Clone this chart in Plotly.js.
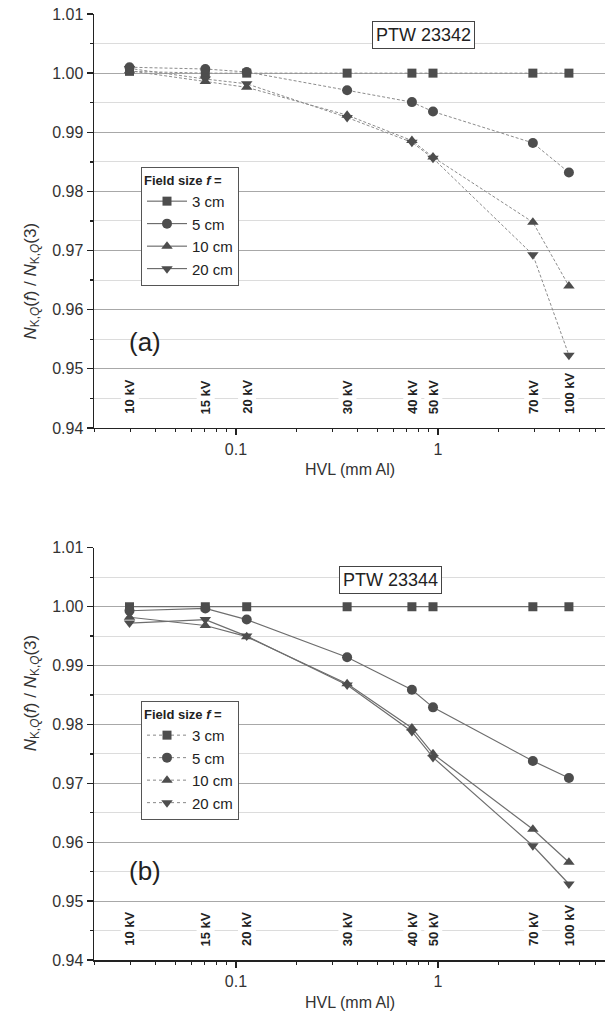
<!DOCTYPE html>
<html>
<head>
<meta charset="utf-8">
<script src="https://cdn.plot.ly/plotly-3.0.1.min.js"></script>
<style>html,body{margin:0;padding:0;background:#fff;}#chart{width:605px;height:1026px;}</style>
</head>
<body>
<div id="chart"></div>
<script>
// HVL (mm Al) for each tube voltage
const hvl = [0.0297, 0.0705, 0.113, 0.355, 0.743, 0.945, 2.95, 4.45];
const kvLabels = ["10 kV", "15 kV", "20 kV", "30 kV", "40 kV", "50 kV", "70 kV", "100 kV"];
const fieldSizes = ["3 cm", "5 cm", "10 cm", "20 cm"];

// Panel (a) PTW 23342
const a3 = [1.0003, 1.0000, 1.0000, 1.0000, 1.0000, 1.0000, 1.0000, 1.0000];
const a5 = [1.0010, 1.0007, 1.0002, 0.9971, 0.9951, 0.9935, 0.9882, 0.9832];
const a10 = [1.0004, 0.9986, 0.9976, 0.9929, 0.9886, 0.9858, 0.9748, 0.9640];
const a20 = [1.0008, 0.9990, 0.9982, 0.9925, 0.9883, 0.9856, 0.9693, 0.9523];

// Panel (b) PTW 23344
const b3 = [1.0000, 1.0000, 1.0000, 1.0000, 1.0000, 1.0000, 1.0000, 1.0000];
const b5 = [0.9993, 0.9997, 0.9978, 0.9914, 0.9859, 0.9829, 0.9738, 0.9709];
const b10 = [0.9982, 0.9968, 0.9949, 0.9869, 0.9794, 0.9750, 0.9622, 0.9566];
const b20 = [0.9972, 0.9978, 0.9950, 0.9867, 0.9788, 0.9744, 0.9594, 0.9529];

const symbols = ["square", "circle", "triangle-up", "triangle-down"];
const sizes = [9, 10, 10, 10];
const markerColor = "#4d4d4d";
const FONT = "Liberation Sans, Arial, sans-serif";

const traces = [];
const seriesA = [a3, a5, a10, a20];
const seriesB = [b3, b5, b10, b20];

seriesA.forEach((ys, i) => {
  traces.push({
    x: hvl, y: ys, xaxis: "x", yaxis: "y", type: "scatter", mode: "lines+markers",
    name: fieldSizes[i], showlegend: false,
    line: {color: "#8c8c8c", width: 1, dash: "3px,2px"},
    marker: {symbol: symbols[i], size: sizes[i], color: markerColor}
  });
});
seriesB.forEach((ys, i) => {
  traces.push({
    x: hvl, y: ys, xaxis: "x2", yaxis: "y2", type: "scatter", mode: "lines+markers",
    name: fieldSizes[i], showlegend: false,
    line: {color: "#6e6e6e", width: 1.2},
    marker: {symbol: symbols[i], size: sizes[i], color: markerColor}
  });
});
// legend entries (styles as shown in each legend box)
fieldSizes.forEach((n, i) => {
  traces.push({
    x: [null], y: [null], xaxis: "x", yaxis: "y", type: "scatter", mode: "lines+markers",
    name: n, legend: "legend", showlegend: true,
    line: {color: "#555", width: 1},
    marker: {symbol: symbols[i], size: sizes[i], color: markerColor}
  });
});
fieldSizes.forEach((n, i) => {
  traces.push({
    x: [null], y: [null], xaxis: "x2", yaxis: "y2", type: "scatter", mode: "lines+markers",
    name: n, legend: "legend2", showlegend: true,
    line: {color: "#888", width: 1, dash: "dot"},
    marker: {symbol: symbols[i], size: sizes[i], color: markerColor}
  });
});

const xRange = [-1.703, 0.827];
const majorX = [0.1, 1];
const minorX = [0.02,0.03,0.04,0.05,0.06,0.07,0.08,0.09,0.2,0.3,0.4,0.5,0.6,0.7,0.8,0.9,2,3,4,5,6];

function xAxis(anchor, ticks, labels, overlay) {
  const ax = {
    type: "log", range: xRange, anchor: anchor,
    tickvals: majorX, ticktext: ["0.1", "1"], showticklabels: labels,
    ticks: ticks, ticklen: 6, tickwidth: 1.3, tickcolor: "#222",
    minor: {tickvals: minorX, ticks: ticks, ticklen: 3, tickwidth: 1.2, tickcolor: "#222", showgrid: false},
    showline: true, linecolor: "#222", linewidth: 1.5,
    showgrid: false, zeroline: false,
    tickfont: {family: FONT, size: 16, color: "#333"}
  };
  if (overlay) { ax.overlaying = overlay; ax.side = "top"; }
  return ax;
}
function yAxis(domain, anchor) {
  return {
    domain: domain, anchor: anchor, range: [0.94, 1.01],
    tick0: 0.94, dtick: 0.01, tickformat: ".2f",
    ticks: "outside", ticklen: 6, tickwidth: 1.3, tickcolor: "#222",
    minor: {dtick: 0.005, ticks: "outside", ticklen: 3, tickcolor: "#222", showgrid: true, gridcolor: "#dcdcdc", gridwidth: 1},
    showline: true, linecolor: "#222", linewidth: 1.5,
    showgrid: true, gridcolor: "#a8a8a8", gridwidth: 1, zeroline: false,
    tickfont: {family: FONT, size: 16, color: "#333"}
  };
}

const topDom = [0.5624, 1];
const botDom = [0, 0.4358];

const annotations = [];
[["x", "y"], ["x2", "y2"]].forEach(([xr, yr]) => {
  hvl.forEach((h, i) => {
    annotations.push({
      xref: xr, yref: yr, x: Math.log10(h), y: 0.942, yanchor: "bottom", xanchor: "center",
      text: "<b>" + kvLabels[i] + "</b>", textangle: -90, showarrow: false,
      font: {family: FONT, size: 13, color: "#222"}, bgcolor: "#ffffff", borderpad: 1
    });
  });
});
annotations.push(
  {xref: "paper", yref: "y", x: 0.644, y: 1.0065, text: "PTW 23342", showarrow: false,
   font: {family: FONT, size: 18, color: "#222"}, bordercolor: "#444", borderwidth: 1, borderpad: 3, bgcolor: "#fff"},
  {xref: "paper", yref: "y2", x: 0.681, y: 1.0045, text: "PTW 23344", showarrow: false,
   font: {family: FONT, size: 18, color: "#222"}, bordercolor: "#444", borderwidth: 1, borderpad: 3, bgcolor: "#fff"},
  {xref: "paper", yref: "y", x: 0.0646, y: 0.9546, text: "(a)", showarrow: false,
   font: {family: FONT, size: 26, color: "#222"}},
  {xref: "paper", yref: "y2", x: 0.0646, y: 0.9551, text: "(b)", showarrow: false,
   font: {family: FONT, size: 26, color: "#222"}},
  {xref: "paper", yref: "paper", x: 0.5, y: (960 - 469) / 946, text: "HVL (mm Al)", showarrow: false,
   font: {family: FONT, size: 16, color: "#333"}},
  {xref: "paper", yref: "paper", x: 0.5, y: (960 - 1013) / 946, text: "HVL (mm Al)", showarrow: false,
   font: {family: FONT, size: 16, color: "#333"}}
);
const yTitle = "<i>N</i><sub>K,<i>Q</i></sub>(<i>f</i>) / <i>N</i><sub>K,<i>Q</i></sub>(3)";
[(topDom[0] + topDom[1]) / 2, (botDom[0] + botDom[1]) / 2].forEach(yc => {
  annotations.push({xref: "paper", yref: "paper", x: (19 - 94) / 511, y: yc, text: yTitle,
    textangle: -90, showarrow: false, font: {family: FONT, size: 17, color: "#333"}});
});

function legendBox(y) {
  return {
    x: (141 - 94) / 511, y: y, xanchor: "left", yanchor: "top",
    bgcolor: "#ffffff", bordercolor: "#555", borderwidth: 1,
    font: {family: FONT, size: 15, color: "#222"},
    title: {text: "<b>Field size <i>f</i> =</b>", font: {family: FONT, size: 13, color: "#222"}},
    itemwidth: 40, tracegroupgap: 0
  };
}

const layout = {
  width: 605, height: 1026,
  margin: {l: 94, r: 0, t: 14, b: 66},
  paper_bgcolor: "#ffffff", plot_bgcolor: "#ffffff",
  showlegend: true,
  xaxis: xAxis("y", "outside", true),
  xaxis2: xAxis("y2", "outside", true),
  xaxis3: xAxis("y", "inside", false, "x"),
  xaxis4: xAxis("y2", "inside", false, "x2"),
  yaxis: yAxis(topDom, "x"),
  yaxis2: yAxis(botDom, "x2"),
  legend: legendBox((960 - 167) / 946),
  legend2: legendBox((960 - 701) / 946),
  annotations: annotations
};

Plotly.newPlot("chart", traces, layout, {displayModeBar: false, staticPlot: true});
</script>
</body>
</html>
